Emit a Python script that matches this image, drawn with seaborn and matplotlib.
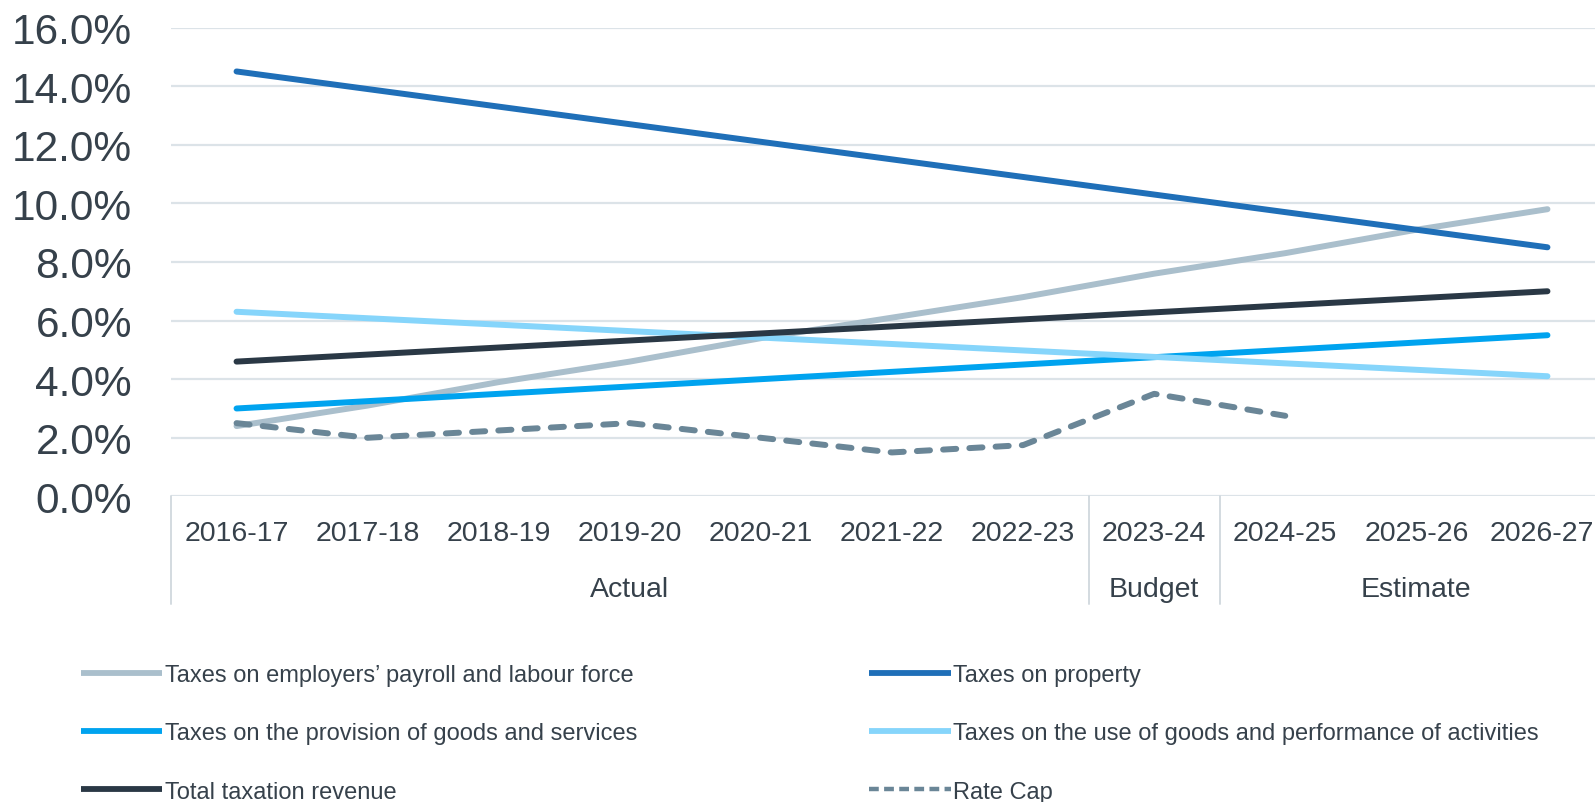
import numpy as np
import pandas as pd
import seaborn as sns
import matplotlib
matplotlib.use("Agg")
import matplotlib.pyplot as plt
from matplotlib.lines import Line2D
from matplotlib.ticker import StrMethodFormatter
import matplotlib.transforms as mtransforms

# ---- data (growth rates, %) ----
years = ["2016-17", "2017-18", "2018-19", "2019-20", "2020-21", "2021-22",
         "2022-23", "2023-24", "2024-25", "2025-26", "2026-27"]
payroll = [2.4, 3.1, 3.9, 4.6, 5.4, 6.1, 6.8, 7.6, 8.3, 9.1, 9.8]
property_tax = [14.5, 13.9, 13.3, 12.7, 12.1, 11.5, 10.9, 10.3, 9.7, 9.1, 8.5]
provision = [3.0, 3.25, 3.5, 3.75, 4.0, 4.25, 4.5, 4.75, 5.0, 5.25, 5.5]
use_goods = [6.3, 6.08, 5.86, 5.64, 5.42, 5.2, 4.98, 4.76, 4.54, 4.32, 4.1]
total_tax = [4.6, 4.84, 5.08, 5.32, 5.56, 5.8, 6.04, 6.28, 6.52, 6.76, 7.0]
rate_cap = [2.5, 2.0, 2.25, 2.5, 2.0, 1.5, 1.75, 3.5, 2.75, np.nan, np.nan]

series_names = ["Taxes on employers\u2019 payroll and labour force",
                "Taxes on property",
                "Taxes on the provision of goods and services",
                "Taxes on the use of goods and performance of activities",
                "Total taxation revenue",
                "Rate Cap"]
series_values = [payroll, property_tax, provision, use_goods, total_tax, rate_cap]

groups = ["Actual", "Budget", "Estimate"]
group_spans = [(0, 6), (7, 7), (8, 10)]

colors = {
    series_names[0]: "#AABFCC",
    series_names[1]: "#1F6FB8",
    series_names[2]: "#00A3EF",
    series_names[3]: "#86D5FB",
    series_names[4]: "#2A3845",
    series_names[5]: "#6A8697",
}
dash_map = {n: "" for n in series_names}
dash_map[series_names[5]] = (2.2, 2.2)

rows = []
for name, vals in zip(series_names, series_values):
    for i, (yr, v) in enumerate(zip(years, vals)):
        if not np.isnan(v):
            rows.append({"series": name, "year": yr, "pos": i, "value": v})
df = pd.DataFrame(rows)

# ---- figure ----
sns.set_theme(style="white")
plt.rcParams["font.family"] = ["Liberation Sans", "DejaVu Sans"]
text_col = "#36414B"

W, H = 1595, 803
fig = plt.figure(figsize=(W / 100, H / 100), dpi=100)
left_px, right_px, top_px, bot_px = 171, 1613, 28.5, 497.4
ax = fig.add_axes([left_px / W, 1 - bot_px / H,
                   (right_px - left_px) / W, (bot_px - top_px) / H])

sns.lineplot(data=df, x="pos", y="value", hue="series", style="series",
             hue_order=series_names, style_order=series_names,
             palette=colors, dashes=dash_map, linewidth=4.3,
             solid_capstyle="round", dash_capstyle="round",
             legend=False, ax=ax, zorder=3)

ax.set_xlim(-0.5, len(years) - 0.5)
ax.set_ylim(0, 16)
ax.set_yticks(np.arange(0, 16.1, 2))
ax.yaxis.set_major_formatter(StrMethodFormatter("{x:.1f}%"))
ax.grid(axis="y", color="#DCE3E8", linewidth=1.6, zorder=0)
ax.grid(axis="x", visible=False)
for s in ax.spines.values():
    s.set_visible(False)

ax.set_xticks(range(len(years)))
ax.set_xticklabels(years)
ax.set_xlabel("")
ax.set_ylabel("")
ax.tick_params(axis="y", length=0, pad=28, labelsize=30.5, labelcolor=text_col)
ax.tick_params(axis="x", length=0, pad=17, labelsize=20.5, labelcolor=text_col)

# keep the last year label inside the canvas
last = ax.get_xticklabels()[-1]
last.set_transform(last.get_transform() +
                   mtransforms.ScaledTranslation(-6 / 100, 0, fig.dpi_scale_trans))

# category group labels and separators beneath the axis
trans = mtransforms.blended_transform_factory(ax.transData, ax.transAxes)
sep_bottom = -(605 - bot_px) / (bot_px - top_px)
grp_y = -(590 - bot_px) / (bot_px - top_px)
for x in [-0.5, 6.5, 7.5]:
    ax.add_line(Line2D([x, x], [0, sep_bottom], transform=trans,
                       color="#D3DBE0", linewidth=1.4, clip_on=False))
for g, (a, b) in zip(groups, group_spans):
    ax.text((a + b) / 2, grp_y, g, transform=trans, ha="center", va="center",
            fontsize=20.5, color=text_col)

# legend in two columns, filled row by row
handles = {n: Line2D([], [], color=colors[n], linewidth=4.2,
                     solid_capstyle="butt")
           for n in series_names}
handles[series_names[5]] = Line2D([], [], color=colors[series_names[5]],
                                  linewidth=3.2, linestyle=(0, (2.2, 1.2)))
order = [series_names[0], series_names[2], series_names[4],
         series_names[1], series_names[3], series_names[5]]
leg = fig.legend([handles[n] for n in order], order, ncol=2,
                 loc="upper left", bbox_to_anchor=(81 / W, 1 - 665 / H),
                 frameon=False, fontsize=17, handlelength=3.45,
                 handletextpad=0.12, columnspacing=9.8, labelspacing=1.54,
                 borderpad=0, borderaxespad=0)
for t in leg.get_texts():
    t.set_color(text_col)

fig.savefig("out.png", dpi=100)
